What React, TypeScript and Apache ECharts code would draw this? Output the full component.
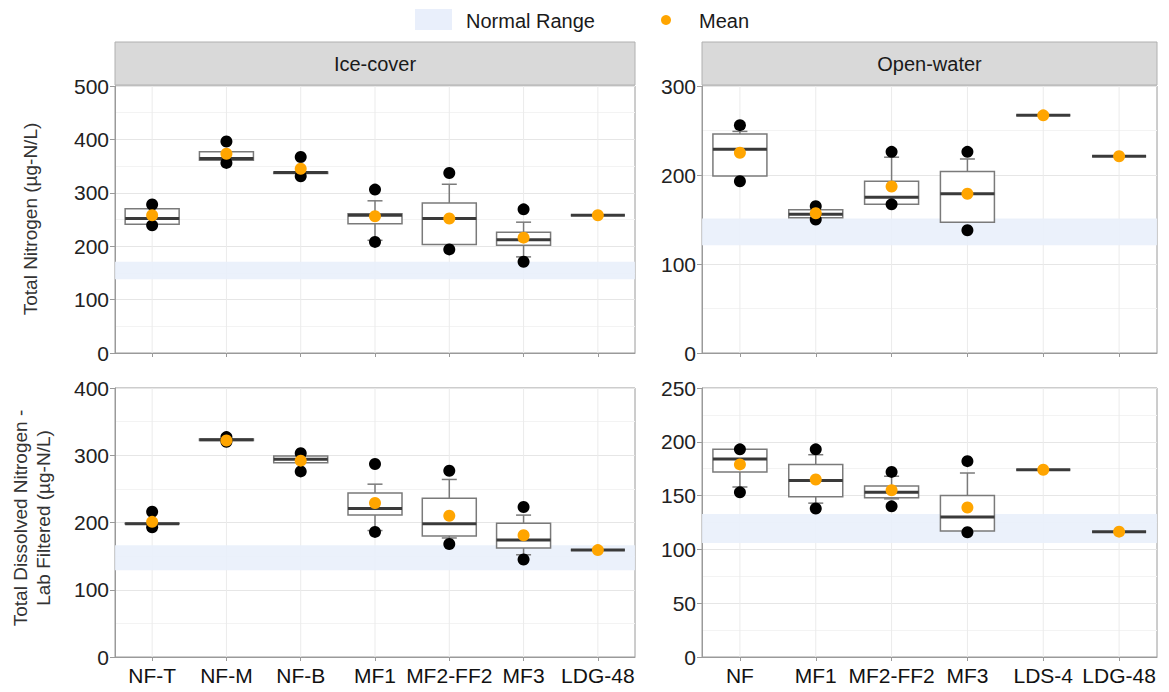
import React, { useEffect, useRef } from "react";
import * as echarts from "echarts";

const FONT = "Liberation Sans, Arial, sans-serif";

// Categories
const catsIce = ["NF-T", "NF-M", "NF-B", "MF1", "MF2-FF2", "MF3", "LDG-48"];
const catsOpen = ["NF", "MF1", "MF2-FF2", "MF3", "LDS-4", "LDG-48"];

// Total Nitrogen – Ice-cover: [min, q1, median, q3, max]
const tnIceBox = [
  [241, 241, 252, 270, 270],
  [361, 361, 364, 377, 377],
  [336, 336, 338, 339, 339],
  [211, 242, 258, 261, 285],
  [203, 203, 252, 281, 316],
  [180, 202, 212, 226, 245],
  [258, 258, 258, 258, 258],
];
const tnIceOut = [[278, 239], [396, 356], [367, 331], [306, 208], [337, 194], [269, 171], []];
const tnIceMean = [258, 373, 345, 256, 252, 216, 258];
const tnIceBand = [138, 171];

// Total Nitrogen – Open-water
const tnOpenBox = [
  [199, 199, 229, 246, 249],
  [152, 152, 156, 161, 161],
  [167, 167, 175, 193, 220],
  [147, 147, 179, 204, 218],
  [267, 267, 267, 267, 267],
  [221, 221, 221, 221, 221],
];
const tnOpenOut = [[256, 193], [165, 150], [226, 167], [226, 138], [], []];
const tnOpenMean = [225, 157, 187, 179, 267, 221];
const tnOpenBand = [121, 151];

// Total Dissolved Nitrogen – Ice-cover
const tdnIceBox = [
  [198, 198, 198, 199, 199],
  [322, 322, 323, 324, 324],
  [289, 289, 294, 299, 299],
  [188, 211, 221, 244, 257],
  [177, 180, 198, 236, 264],
  [152, 162, 174, 199, 211],
  [159, 159, 159, 159, 159],
];
const tdnIceOut = [[216, 193], [327, 320], [303, 276], [287, 186], [277, 168], [223, 145], []];
const tdnIceMean = [201, 322, 292, 229, 210, 181, 159];
const tdnIceBand = [129, 166];

// Total Dissolved Nitrogen – Open-water
const tdnOpenBox = [
  [158, 172, 184, 193, 193],
  [143, 149, 164, 179, 188],
  [147, 148, 153, 159, 168],
  [117, 117, 130, 150, 171],
  [174, 174, 174, 174, 174],
  [116.5, 116.5, 116.5, 116.5, 116.5],
];
const tdnOpenOut = [[193, 153], [193, 138], [172, 140], [182, 116], [], []];
const tdnOpenMean = [179, 165, 155, 139, 174, 116.5];
const tdnOpenBand = [106, 133];

const BAND_COLOR = "#E9EFFB";
const MEAN_COLOR = "#FFA500";

export default function App() {
  const ref = useRef<HTMLDivElement>(null);

  useEffect(() => {
    if (!ref.current) return;
    const chart = echarts.init(ref.current, undefined, { renderer: "svg" });

    const panels = [
      { cats: catsIce, box: tnIceBox, out: tnIceOut, mean: tnIceMean, band: tnIceBand, max: 500, interval: 100, grid: { left: 115, top: 86, width: 520, height: 267 }, showX: false },
      { cats: catsOpen, box: tnOpenBox, out: tnOpenOut, mean: tnOpenMean, band: tnOpenBand, max: 300, interval: 100, grid: { left: 702, top: 86, width: 455, height: 267 }, showX: false },
      { cats: catsIce, box: tdnIceBox, out: tdnIceOut, mean: tdnIceMean, band: tdnIceBand, max: 400, interval: 100, grid: { left: 115, top: 388, width: 520, height: 269 }, showX: true },
      { cats: catsOpen, box: tdnOpenBox, out: tdnOpenOut, mean: tdnOpenMean, band: tdnOpenBand, max: 250, interval: 50, grid: { left: 702, top: 388, width: 455, height: 269 }, showX: true },
    ];

    const grids: any[] = [];
    const xAxes: any[] = [];
    const yAxes: any[] = [];
    const series: any[] = [];

    panels.forEach((p, gi) => {
      grids.push({ ...p.grid, show: true, borderColor: "#9a9a9a", borderWidth: 1, backgroundColor: "transparent" });
      xAxes.push({
        type: "category",
        gridIndex: gi,
        data: p.cats,
        boundaryGap: true,
        axisLine: { show: true, lineStyle: { color: "#9a9a9a" } },
        axisTick: { show: true, alignWithLabel: true, length: 4, lineStyle: { color: "#9a9a9a" } },
        splitLine: { show: false },
        axisLabel: { show: p.showX, interval: 0, fontSize: 21, color: "#111", fontFamily: FONT, margin: 8 },
      });
      yAxes.push({
        type: "value",
        gridIndex: gi,
        min: 0,
        max: p.max,
        interval: p.interval,
        axisLine: { show: true, lineStyle: { color: "#9a9a9a" } },
        axisTick: { show: true, length: 5, lineStyle: { color: "#9a9a9a" } },
        axisLabel: { fontSize: 21, color: "#222", fontFamily: FONT, margin: 6 },
        splitLine: { show: true, lineStyle: { color: "#e6e6e6", width: 1 } },
        minorTick: { show: false, splitNumber: 2 },
        minorSplitLine: { show: true, lineStyle: { color: "#f3f3f3", width: 1 } },
      });

      // vertical grid lines at categories
      series.push({
        type: "custom",
        xAxisIndex: gi,
        yAxisIndex: gi,
        z: 0,
        silent: true,
        data: p.cats.map((_, i) => [i, 0]),
        encode: { x: 0, y: 1 },
        renderItem: (params: any, api: any) => {
          const cs = params.coordSys;
          const x = api.coord([api.value(0), 0])[0];
          return {
            type: "line",
            shape: { x1: x, y1: cs.y, x2: x, y2: cs.y + cs.height },
            style: { stroke: "#ebebeb", lineWidth: 1 },
          };
        },
      });

      // normal range band
      series.push({
        type: "custom",
        name: "Normal Range",
        xAxisIndex: gi,
        yAxisIndex: gi,
        z: 1,
        silent: true,
        data: [[0, p.band[0], p.band[1]]],
        encode: { x: 0, y: [1, 2] },
        renderItem: (params: any, api: any) => {
          const cs = params.coordSys;
          const yTop = api.coord([0, api.value(2)])[1];
          const yBot = api.coord([0, api.value(1)])[1];
          return {
            type: "rect",
            shape: { x: cs.x, y: yTop, width: cs.width, height: yBot - yTop },
            style: { fill: BAND_COLOR, opacity: 0.9 },
          };
        },
      });

      // boxes
      series.push({
        type: "custom",
        xAxisIndex: gi,
        yAxisIndex: gi,
        z: 2,
        silent: true,
        data: p.box.map((b, i) => [i, ...b]),
        encode: { x: 0, y: [1, 2, 3, 4, 5] },
        renderItem: (params: any, api: any) => {
          const idx = api.value(0);
          const vals = [1, 2, 3, 4, 5].map((d) => api.value(d));
          const x = api.coord([idx, 0])[0];
          const [yMin, yQ1, yMed, yQ3, yMax] = vals.map((v: number) => api.coord([idx, v])[1]);
          const hw = 27;
          const cw = 7.5;
          const stroke = "#7a7a7a";
          const children: any[] = [];
          if (vals[4] > vals[3]) {
            children.push({ type: "line", shape: { x1: x, y1: yQ3, x2: x, y2: yMax }, style: { stroke, lineWidth: 1.5 } });
            children.push({ type: "line", shape: { x1: x - cw, y1: yMax, x2: x + cw, y2: yMax }, style: { stroke, lineWidth: 1.5 } });
          }
          if (vals[0] < vals[1]) {
            children.push({ type: "line", shape: { x1: x, y1: yQ1, x2: x, y2: yMin }, style: { stroke, lineWidth: 1.5 } });
            children.push({ type: "line", shape: { x1: x - cw, y1: yMin, x2: x + cw, y2: yMin }, style: { stroke, lineWidth: 1.5 } });
          }
          children.push({
            type: "rect",
            shape: { x: x - hw, y: yQ3, width: hw * 2, height: Math.max(yQ1 - yQ3, 0) },
            style: { fill: "#ffffff", stroke, lineWidth: 1.5 },
          });
          children.push({
            type: "line",
            shape: { x1: x - hw, y1: yMed, x2: x + hw, y2: yMed },
            style: { stroke: "#3a3a3a", lineWidth: 3 },
          });
          return { type: "group", children };
        },
      });

      // outlier / extreme points
      const outData: number[][] = [];
      p.out.forEach((arr, i) => arr.forEach((v) => outData.push([i, v])));
      series.push({
        type: "scatter",
        xAxisIndex: gi,
        yAxisIndex: gi,
        z: 3,
        silent: true,
        symbol: "circle",
        symbolSize: 12,
        itemStyle: { color: "#000000", opacity: 1 },
        data: outData,
      });

      // mean
      series.push({
        type: "scatter",
        name: "Mean",
        xAxisIndex: gi,
        yAxisIndex: gi,
        z: 4,
        silent: true,
        symbol: "circle",
        symbolSize: 12,
        itemStyle: { color: MEAN_COLOR, opacity: 1 },
        data: p.mean.map((m, i) => [i, m]),
      });
    });

    const strip = (x: number, w: number, label: string) => [
      {
        type: "rect",
        shape: { x, y: 42, width: w, height: 43 },
        style: { fill: "#d9d9d9", stroke: "#b0b0b0", lineWidth: 1 },
        z: 10,
      },
      {
        type: "text",
        x: x + w / 2,
        y: 64,
        style: { text: label, fontSize: 20, fontFamily: FONT, fill: "#1a1a1a", align: "center", verticalAlign: "middle" },
        z: 11,
      },
    ];

    chart.setOption({
      animation: false,
      backgroundColor: "#ffffff",
      grid: grids,
      xAxis: xAxes,
      yAxis: yAxes,
      series,
      graphic: [
        ...strip(115, 520, "Ice-cover"),
        ...strip(702, 455, "Open-water"),
        {
          type: "rect",
          shape: { x: 415, y: 9, width: 37, height: 21 },
          style: { fill: BAND_COLOR },
        },
        {
          type: "text",
          x: 466,
          y: 21,
          style: { text: "Normal Range", fontSize: 20, fontFamily: FONT, fill: "#1a1a1a", verticalAlign: "middle" },
        },
        {
          type: "circle",
          shape: { cx: 666, cy: 20, r: 5 },
          style: { fill: MEAN_COLOR },
        },
        {
          type: "text",
          x: 699,
          y: 21,
          style: { text: "Mean", fontSize: 20, fontFamily: FONT, fill: "#1a1a1a", verticalAlign: "middle" },
        },
        {
          type: "text",
          x: 30,
          y: 219,
          rotation: Math.PI / 2,
          style: { text: "Total Nitrogen (µg-N/L)", fontSize: 19, fontFamily: FONT, fill: "#333", align: "center", verticalAlign: "middle" },
        },
        {
          type: "text",
          x: 20,
          y: 518,
          rotation: Math.PI / 2,
          style: { text: "Total Dissolved Nitrogen -", fontSize: 19, fontFamily: FONT, fill: "#333", align: "center", verticalAlign: "middle" },
        },
        {
          type: "text",
          x: 43,
          y: 518,
          rotation: Math.PI / 2,
          style: { text: "Lab Filtered (µg-N/L)", fontSize: 19, fontFamily: FONT, fill: "#333", align: "center", verticalAlign: "middle" },
        },
      ],
    });

    return () => chart.dispose();
  }, []);

  return (
    <div
      ref={ref}
      style={{ position: "absolute", left: 0, top: 0, width: 1169, height: 692, background: "#fff" }}
    />
  );
}
